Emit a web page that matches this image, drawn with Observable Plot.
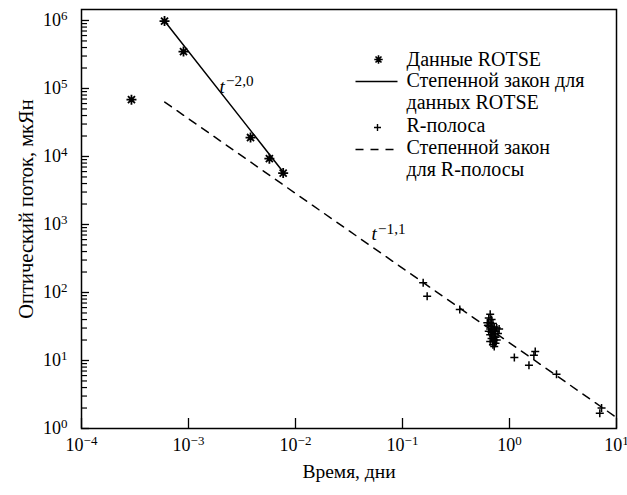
<!DOCTYPE html>
<html><head><meta charset="utf-8">
<script src="https://cdn.jsdelivr.net/npm/d3@7"></script>
<script src="https://cdn.jsdelivr.net/npm/@observablehq/plot@0.6"></script>
<style>
body{margin:0;background:#fff}
svg{display:block}
#chart svg, #chart svg text, #chart svg tspan { font-family: "Liberation Serif", "DejaVu Serif", "Times New Roman", serif !important; }
</style>
</head><body><div id="chart"></div>
<script>
// ROTSE data (asterisks)
const rotseT = [2.93e-4, 5.97e-4, 8.98e-4, 3.8e-3, 5.7e-3, 7.67e-3];
const rotseF = [6.84e4, 9.8e5, 3.49e5, 1.9e4, 9.3e3, 5.7e3];
// R-band data (plus)
const rbandT = [0.156, 0.17, 0.343,
  0.66, 0.64, 0.68, 0.62, 0.66, 0.70, 0.64, 0.68, 0.72, 0.76, 0.80, 0.66, 0.70, 0.74, 0.64,
  0.68, 0.72, 0.78, 0.66, 0.70, 0.74, 0.68, 0.72, 0.76, 0.70, 0.66, 0.74, 0.70, 0.72,
  1.11, 1.52, 1.69, 1.74, 2.75, 6.98, 7.25];
const rbandF = [139, 88, 56,
  48, 42, 40, 36, 36, 35, 33, 32, 31, 30, 29, 29, 28, 27, 27,
  26, 25, 25, 24, 23, 22, 21, 20, 20, 19, 19, 18, 17, 16,
  11.1, 8.5, 11.9, 13.6, 6.3, 1.68, 2.0];
// Power-law fits (end points)
const rotseFitT = [5.97e-4, 7.67e-3];
const rotseFitF = [9.8e5, 5.93e3];
const rFitT = [6.0e-4, 10];
const rFitF = [6.3e4, 1.45];
// Axes
const xDomain = [1e-4, 10];
const yDomain = [1, 1.45e6];
const xTicks = [1e-4, 1e-3, 1e-2, 1e-1, 1, 10];
const yTicks = [1, 10, 100, 1e3, 1e4, 1e5, 1e6];
// Annotations
const annotT = [1.95e-3, 0.0513];
const annotF = [8.7e4, 590];
const annotText = ["t^−2,0", "t^−1,1"];
// Legend
const legendLabels = ["Данные ROTSE", "Степенной закон для\nданных ROTSE", "R-полоса", "Степенной закон\nдля R-полосы"];
const xLabel = "Время, дни";
const yLabel = "Оптический поток, мкЯн";

const rotse = rotseT.map((t, i) => ({t, f: rotseF[i]}));
const rband = rbandT.map((t, i) => ({t, f: rbandF[i]}));
const rotseFit = rotseFitT.map((t, i) => ({t, f: rotseFitF[i]}));
const rFit = rFitT.map((t, i) => ({t, f: rFitF[i]}));
const annots = annotT.map((t, i) => ({t, f: annotF[i], label: annotText[i]}));
const minorY = [];
for (const k of [0, 1, 2, 3, 4, 5]) for (let d = 2; d <= 9; d++) minorY.push(d * Math.pow(10, k));

const star = {draw(ctx, size) {
  const r = Math.sqrt(size / Math.PI);
  for (const a of [0, 45, 90, 135]) {
    const c = Math.cos(a * Math.PI / 180) * r, s = Math.sin(a * Math.PI / 180) * r;
    ctx.moveTo(c, s); ctx.lineTo(-c, -s);
  }
}};
const plus = {draw(ctx, size) {
  const r = Math.sqrt(size / Math.PI);
  ctx.moveTo(-r, 0); ctx.lineTo(r, 0); ctx.moveTo(0, -r); ctx.lineTo(0, r);
}};
const hline = (L) => ({draw(ctx) { ctx.moveTo(-L, 0); ctx.lineTo(L, 0); }});
const fmt = d => "10^" + String(Math.round(Math.log10(d))).replace("-", "−");
const one = [0];
const legendText = (label, dy) => Plot.text([label], {text: d => d, frameAnchor: "top-left", dx: 325, dy, textAnchor: "start", lineAnchor: "top", fontSize: 20, lineHeight: 1.1});

const plot = Plot.plot({
  width: 627, height: 495,
  marginLeft: 81, marginRight: 11, marginTop: 9, marginBottom: 67,
  style: {fontFamily: "'Liberation Serif', serif", fontSize: "18px", color: "black", background: "white"},
  x: {type: "log", domain: xDomain},
  y: {type: "log", domain: yDomain},
  marks: [
    Plot.axisX({ticks: xTicks, tickSize: -10, tickFormat: () => "", label: null, strokeWidth: 1.3}),
    Plot.axisX({ticks: xTicks, tickSize: 0, tickPadding: 10, tickFormat: fmt, label: null}),
    Plot.axisY({ticks: minorY, tickSize: -6, tickFormat: () => "", label: null, strokeWidth: 1.2}),
    Plot.axisY({ticks: yTicks, tickSize: -8, tickFormat: () => "", label: null, strokeWidth: 1.3}),
    Plot.axisY({ticks: yTicks, tickSize: 0, tickPadding: 14, tickFormat: fmt, label: null}),
    Plot.frame({stroke: "black", strokeWidth: 1.5}),
    Plot.line(rFit, {x: "t", y: "f", stroke: "black", strokeWidth: 1.5, strokeDasharray: "8,7"}),
    Plot.line(rotseFit, {x: "t", y: "f", stroke: "black", strokeWidth: 1.5}),
    Plot.dot(rotse, {x: "t", y: "f", symbol: star, r: 5, fill: "none", stroke: "black", strokeWidth: 1.8}),
    Plot.dot(rband, {x: "t", y: "f", symbol: plus, r: 4, fill: "none", stroke: "black", strokeWidth: 1.5}),
    Plot.text(annots, {x: "t", y: "f", text: "label", textAnchor: "start", lineAnchor: "bottom", fontSize: 19, className: "annot"}),
    // axis titles
    Plot.text([yLabel], {text: d => d, frameAnchor: "left", textAnchor: "middle", lineAnchor: "middle", rotate: -90, dx: -55, dy: -10, fontSize: 20.5}),
    Plot.text([xLabel], {text: d => d, frameAnchor: "bottom", textAnchor: "middle", lineAnchor: "middle", dy: 43, fontSize: 19.5}),
    // legend
    Plot.dot(one, {frameAnchor: "top-left", dx: 297, dy: 50, symbol: star, r: 4.2, fill: "none", stroke: "black", strokeWidth: 1.6}),
    Plot.dot(one, {frameAnchor: "top-left", dx: 295, dy: 72, symbol: hline(21), fill: "none", stroke: "black", strokeWidth: 1.5}),
    Plot.dot(one, {frameAnchor: "top-left", dx: 296, dy: 118, symbol: plus, r: 3.5, fill: "none", stroke: "black", strokeWidth: 1.4}),
    Plot.dot(one, {frameAnchor: "top-left", dx: 293, dy: 140, symbol: hline(19), fill: "none", stroke: "black", strokeWidth: 1.5, strokeDasharray: "8,7"}),
    legendText(legendLabels[0], 41),
    legendText(legendLabels[1], 62),
    legendText(legendLabels[2], 107),
    legendText(legendLabels[3], 129)
  ]
});

d3.select(plot).selectAll("text").each(function () {
  const txt = this.textContent;
  if (!txt.includes("^") || this.querySelector("tspan")) return;
  const [base, exp] = txt.split("^");
  const isAnnot = base === "t";
  const sel = d3.select(this);
  sel.text(null);
  sel.append("tspan").text(base).attr("font-style", isAnnot ? "italic" : null);
  sel.append("tspan").text(exp)
    .attr("dx", isAnnot ? "0.08em" : null)
    .attr("dy", isAnnot ? "-0.42em" : "-0.5em")
    .attr("font-size", isAnnot ? "0.8em" : "0.72em");
});

document.getElementById("chart").append(plot);
</script>
</body></html>
